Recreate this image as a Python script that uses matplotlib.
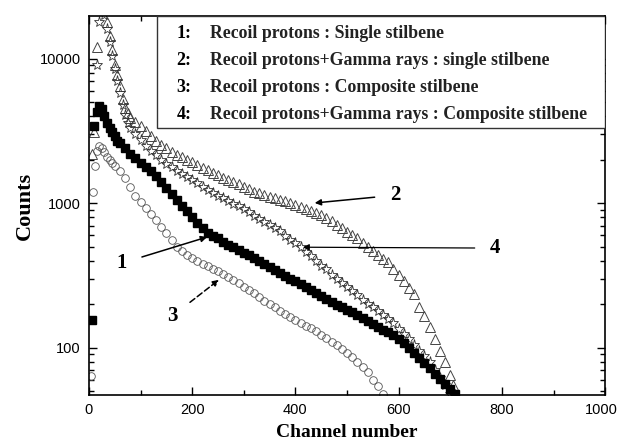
import numpy as np
import matplotlib.pyplot as plt
from matplotlib.patches import Rectangle
from matplotlib.ticker import LogLocator, FuncFormatter, MultipleLocator, NullFormatter

# channel / counts
ch1 = [5, 10, 15, 20, 25, 30, 35, 40, 45, 50, 55, 60, 70, 80, 90, 100, 110, 120, 130, 140,
       150, 160, 170, 180, 190, 200, 210, 220, 230, 240, 250, 260, 270, 280, 290, 300, 310,
       320, 330, 340, 350, 360, 370, 380, 390, 400, 410, 420, 430, 440, 450, 460, 470, 480,
       490, 500, 510, 520, 530, 540, 550, 560, 570, 580, 590, 600, 610, 620, 630, 640, 650,
       660, 670, 680, 690, 700, 710]
cnt1 = [155, 3450, 4300, 4700, 4500, 4000, 3600, 3300, 3100, 2900, 2700, 2600, 2400, 2200,
        2050, 1900, 1780, 1670, 1540, 1400, 1270, 1150, 1050, 960, 880, 800, 730, 670, 620,
        590, 570, 540, 515, 495, 475, 455, 435, 420, 400, 380, 360, 345, 330, 315, 300, 290,
        275, 262, 250, 238, 228, 218, 208, 198, 190, 182, 176, 168, 160, 152, 145, 138, 132,
        128, 122, 115, 108, 100, 92, 85, 78, 72, 66, 61, 56, 52, 48]

ch2 = [5, 10, 15, 20, 25, 30, 35, 40, 45, 50, 55, 60, 65, 70, 75, 80, 90, 100, 110, 120, 130,
       140, 150, 160, 170, 180, 190, 200, 210, 220, 230, 240, 250, 260, 270, 280, 290, 300,
       310, 320, 330, 340, 350, 360, 370, 380, 390, 400, 410, 420, 430, 440, 450, 460, 470,
       480, 490, 500, 510, 520, 530, 540, 550, 560, 570, 580, 590, 600, 610, 620, 630, 640,
       650, 660, 670, 680, 690, 700, 705, 710]
cnt2 = [2200, 3100, 12000, 22000, 25000, 22000, 18000, 14500, 11500, 9000, 7700, 6500, 5300,
        4600, 4200, 3900, 3650, 3400, 3150, 2900, 2700, 2550, 2400, 2280, 2170, 2080, 2000,
        1920, 1840, 1760, 1690, 1620, 1560, 1500, 1450, 1400, 1350, 1300, 1250, 1200, 1170,
        1140, 1110, 1080, 1050, 1030, 1000, 970, 940, 910, 880, 860, 830, 790, 750, 710, 670,
        630, 600, 570, 530, 500, 470, 440, 410, 390, 350, 320, 290, 260, 235, 190, 165, 140,
        115, 95, 80, 65, 55, 48]

ch3 = [4, 8, 12, 15, 20, 25, 30, 35, 40, 45, 50, 60, 70, 80, 90, 100, 110, 120, 130, 140, 150,
       160, 170, 180, 190, 200, 210, 220, 230, 240, 250, 260, 270, 280, 290, 300, 310, 320,
       330, 340, 350, 360, 370, 380, 390, 400, 410, 420, 430, 440, 450, 460, 470, 480, 490,
       500, 510, 520, 530, 540, 550, 560, 570]
cnt3 = [64, 1200, 1800, 2300, 2500, 2400, 2250, 2100, 2000, 1900, 1800, 1680, 1500, 1300,
        1130, 1020, 930, 840, 760, 690, 620, 560, 500, 470, 440, 420, 400, 380, 365, 350, 340,
        325, 310, 295, 280, 265, 250, 238, 225, 212, 200, 190, 180, 170, 162, 155, 148, 142,
        136, 130, 123, 116, 110, 104, 98, 92, 86, 80, 74, 68, 60, 54, 48]

ch4 = [15, 20, 25, 30, 35, 40, 45, 50, 55, 60, 65, 70, 75, 80, 90, 100, 110, 120, 130, 140,
       150, 160, 170, 180, 190, 200, 210, 220, 230, 240, 250, 260, 270, 280, 290, 300, 310,
       320, 330, 340, 350, 360, 370, 380, 390, 400, 410, 420, 430, 440, 450, 460, 470, 480,
       490, 500, 510, 520, 530, 540, 550, 560, 570, 580, 590, 600, 610, 620, 630, 640, 650,
       660, 670, 680, 690, 700]
cnt4 = [9000, 18000, 22000, 20000, 16000, 13000, 10500, 8500, 7000, 5800, 4800, 4100, 3600,
        3300, 3000, 2750, 2500, 2300, 2150, 2000, 1880, 1770, 1670, 1590, 1510, 1440, 1370,
        1300, 1240, 1180, 1130, 1080, 1030, 990, 950, 910, 870, 820, 780, 740, 710, 670, 640,
        590, 560, 530, 500, 460, 430, 400, 370, 350, 320, 300, 280, 265, 248, 230, 215, 200,
        190, 178, 168, 158, 148, 135, 125, 115, 105, 95, 88, 80, 70, 62, 55, 48]

legend_nums = ["1:", "2:", "3:", "4:"]
legend_txt = ["Recoil protons : Single stilbene",
              "Recoil protons+Gamma rays : single stilbene",
              "Recoil protons : Composite stilbene",
              "Recoil protons+Gamma rays : Composite stilbene"]

serif = ["Liberation Serif", "DejaVu Serif"]
sans = ["Liberation Sans", "DejaVu Sans"]

fig = plt.figure(figsize=(6.2, 4.43), dpi=100)
ax = fig.add_axes([0.1435, 0.1084, 0.8325, 0.8555])

ax.plot(ch2, cnt2, ls="none", marker="^", ms=6.5, mfc="none", mec="#444444", mew=0.7)
ax.plot(ch4, cnt4, ls="none", marker="*", ms=8, mfc="none", mec="#333333", mew=0.6)
ax.plot(ch3, cnt3, ls="none", marker="o", ms=5.5, mfc="none", mec="#555555", mew=0.6)
ax.plot(ch1, cnt1, ls="none", marker="s", ms=5.5, mfc="black", mec="black")

ax.set_yscale("log")
ax.set_xlim(0, 1000)
ax.set_ylim(47, 19800)

ax.xaxis.set_major_locator(MultipleLocator(200))
ax.xaxis.set_minor_locator(MultipleLocator(100))
# the last x label is placed by hand below so it does not run off the edge
ax.xaxis.set_major_formatter(FuncFormatter(lambda v, p: "" if v >= 1000 else "%d" % v))
ax.yaxis.set_major_locator(LogLocator(base=10))
ax.yaxis.set_minor_locator(LogLocator(base=10, subs=np.arange(2, 10)))
ax.yaxis.set_major_formatter(FuncFormatter(lambda v, p: "%d" % v))
ax.yaxis.set_minor_formatter(NullFormatter())
ax.tick_params(which="both", direction="in", top=True, right=True, width=1)
ax.tick_params(which="major", length=6, labelsize=10.5, pad=6)
ax.tick_params(which="minor", length=3.5)
for lab in ax.get_xticklabels() + ax.get_yticklabels():
    lab.set_family(sans)
for s in ax.spines.values():
    s.set_linewidth(1.2)

ax.annotate("1000", xy=(1000, 0), xycoords=("data", "axes fraction"),
            xytext=(-3, -6), textcoords="offset points", ha="center", va="top",
            fontsize=10.5, fontfamily=sans)

ax.set_xlabel("Channel number", fontfamily=serif, fontweight="bold", fontsize=14, labelpad=5)
ax.set_ylabel("Counts", fontfamily=serif, fontweight="bold", fontsize=16, labelpad=3)

# legend box drawn by hand
ax.add_patch(Rectangle((0.132, 0.704), 0.868, 0.296, transform=ax.transAxes,
                       fc="white", ec="#333333", lw=1.0, zorder=5))
rows = [0.955, 0.883, 0.811, 0.741]
for yy, n, t in zip(rows, legend_nums, legend_txt):
    ax.text(0.170, yy, n, transform=ax.transAxes, fontfamily=serif, fontweight="bold",
            fontsize=13, va="center", zorder=6)
    ax.text(0.2345, yy, t, transform=ax.transAxes, fontfamily=serif, fontweight="bold",
            fontsize=12.8, va="center", color="#222222", zorder=6)

# numbered arrows
arrow = dict(arrowstyle="-|>", color="black", lw=1.1, mutation_scale=9)
ax.annotate("1", xy=(234, 591), xytext=(64, 385), fontfamily=serif, fontweight="bold",
            fontsize=15, ha="center", va="center",
            arrowprops=dict(arrow, shrinkA=9))
ax.annotate("2", xy=(432, 1000), xytext=(593, 1136), fontfamily=serif, fontweight="bold",
            fontsize=15, ha="center", va="center",
            arrowprops=dict(arrow, shrinkA=9))
ax.annotate("3", xy=(256, 303), xytext=(161, 165), fontfamily=serif, fontweight="bold",
            fontsize=15, ha="center", va="center",
            arrowprops=dict(arrow, ls=(0, (4, 2)), shrinkA=9))
ax.annotate("4", xy=(409, 496), xytext=(787, 489), fontfamily=serif, fontweight="bold",
            fontsize=15, ha="center", va="center",
            arrowprops=dict(arrow, lw=0.9, shrinkA=9))

fig.savefig("out.png", dpi=100)
